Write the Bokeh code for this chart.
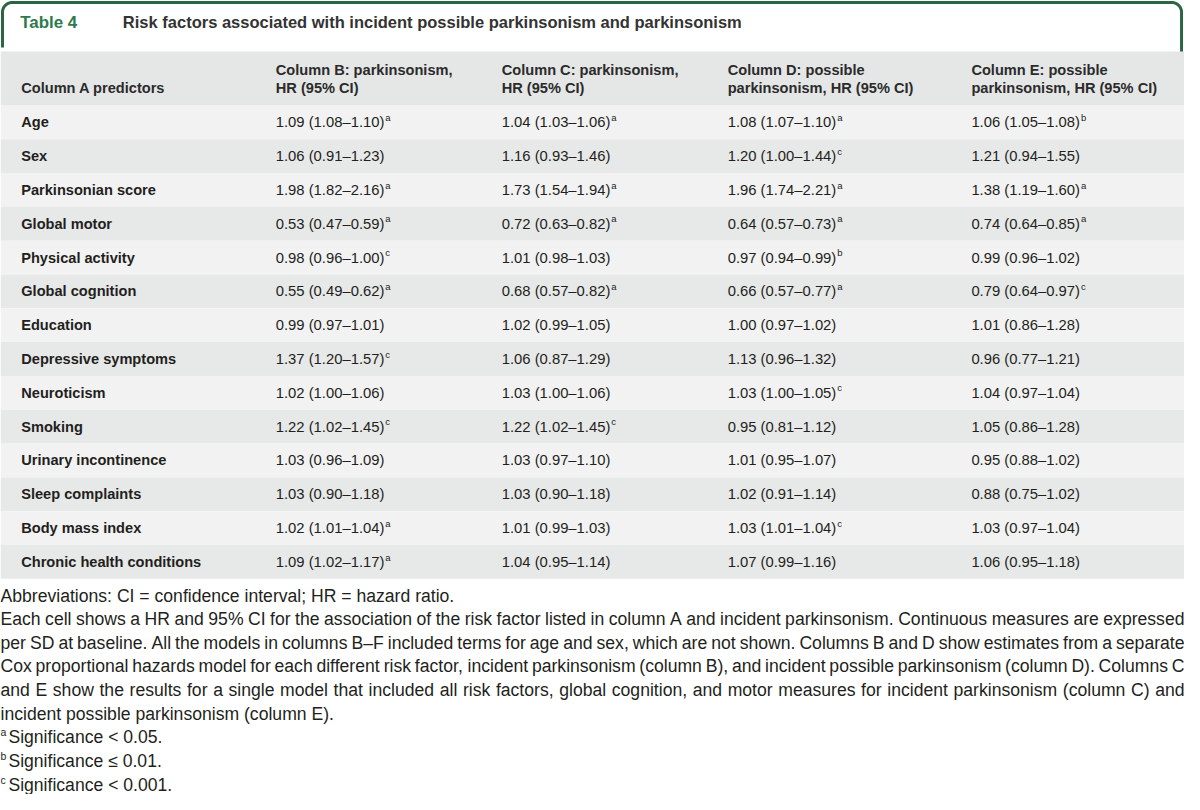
import numpy as np
from bokeh.plotting import figure
from bokeh.models import Range1d
from bokeh.core.properties import value
from bokeh.embed import file_html
from bokeh.resources import INLINE

# ---------------- data ----------------
table_label = "Table 4"
table_title = "Risk factors associated with incident possible parkinsonism and parkinsonism"

header_a = ["Column A predictors"]
header_b = ["Column B: parkinsonism,", "HR (95% CI)"]
header_c = ["Column C: parkinsonism,", "HR (95% CI)"]
header_d = ["Column D: possible", "parkinsonism, HR (95% CI)"]
header_e = ["Column E: possible", "parkinsonism, HR (95% CI)"]

predictors = ["Age", "Sex", "Parkinsonian score", "Global motor", "Physical activity",
              "Global cognition", "Education", "Depressive symptoms", "Neuroticism",
              "Smoking", "Urinary incontinence", "Sleep complaints", "Body mass index",
              "Chronic health conditions"]

hr_b = [1.09, 1.06, 1.98, 0.53, 0.98, 0.55, 0.99, 1.37, 1.02, 1.22, 1.03, 1.03, 1.02, 1.09]
lo_b = [1.08, 0.91, 1.82, 0.47, 0.96, 0.49, 0.97, 1.20, 1.00, 1.02, 0.96, 0.90, 1.01, 1.02]
hi_b = [1.10, 1.23, 2.16, 0.59, 1.00, 0.62, 1.01, 1.57, 1.06, 1.45, 1.09, 1.18, 1.04, 1.17]
sig_b = ["a", "", "a", "a", "c", "a", "", "c", "", "c", "", "", "a", "a"]

hr_c = [1.04, 1.16, 1.73, 0.72, 1.01, 0.68, 1.02, 1.06, 1.03, 1.22, 1.03, 1.03, 1.01, 1.04]
lo_c = [1.03, 0.93, 1.54, 0.63, 0.98, 0.57, 0.99, 0.87, 1.00, 1.02, 0.97, 0.90, 0.99, 0.95]
hi_c = [1.06, 1.46, 1.94, 0.82, 1.03, 0.82, 1.05, 1.29, 1.06, 1.45, 1.10, 1.18, 1.03, 1.14]
sig_c = ["a", "", "a", "a", "", "a", "", "", "", "c", "", "", "", ""]

hr_d = [1.08, 1.20, 1.96, 0.64, 0.97, 0.66, 1.00, 1.13, 1.03, 0.95, 1.01, 1.02, 1.03, 1.07]
lo_d = [1.07, 1.00, 1.74, 0.57, 0.94, 0.57, 0.97, 0.96, 1.00, 0.81, 0.95, 0.91, 1.01, 0.99]
hi_d = [1.10, 1.44, 2.21, 0.73, 0.99, 0.77, 1.02, 1.32, 1.05, 1.12, 1.07, 1.14, 1.04, 1.16]
sig_d = ["a", "c", "a", "a", "b", "a", "", "", "c", "", "", "", "c", ""]

hr_e = [1.06, 1.21, 1.38, 0.74, 0.99, 0.79, 1.01, 0.96, 1.04, 1.05, 0.95, 0.88, 1.03, 1.06]
lo_e = [1.05, 0.94, 1.19, 0.64, 0.96, 0.64, 0.86, 0.77, 0.97, 0.86, 0.88, 0.75, 0.97, 0.95]
hi_e = [1.08, 1.55, 1.60, 0.85, 1.02, 0.97, 1.28, 1.21, 1.04, 1.28, 1.02, 1.02, 1.04, 1.18]
sig_e = ["b", "", "a", "a", "", "c", "", "", "", "", "", "", "", ""]

abbrev_line = "Abbreviations: CI = confidence interval; HR = hazard ratio."
note_lines = [
    "Each cell shows a HR and 95% CI for the association of the risk factor listed in column A and incident parkinsonism. Continuous measures are expressed",
    "per SD at baseline. All the models in columns B\u2013F included terms for age and sex, which are not shown. Columns B and D show estimates from a separate",
    "Cox proportional hazards model for each different risk factor, incident parkinsonism (column B), and incident possible parkinsonism (column D). Columns C",
    "and E show the results for a single model that included all risk factors, global cognition, and motor measures for incident parkinsonism (column C) and",
    "incident possible parkinsonism (column E).",
]
sig_letters = ["a", "b", "c"]
sig_texts = ["Significance < 0.05.", "Significance \u2264 0.01.", "Significance < 0.001."]

# ---------------- layout / style ----------------
FONT = "Liberation Sans"
W_REF, H_REF = 1200, 810
FIG_W, FIG_H = 1184, 794
SX = FIG_W / W_REF

GREEN_LINE = "#2b6544"
GREEN_TEXT = "#2e7a4e"
TEXT = "#231f20"
HEADER_BG = "#e5e6e6"
ROW_BG = ["#f2f2f2", "#e7e8e8"]

# Arial / Liberation Sans advance widths (1/1000 em)
AW = {' ': 278, '(': 333, ')': 333, ',': 278, '-': 333, '.': 278, ':': 278, ';': 278,
      '%': 889, '=': 584, '<': 584, '\u2264': 549, '\u2013': 556, '0': 556, '1': 556,
      '2': 556, '3': 556, '4': 556, '5': 556, '6': 556, '7': 556, '8': 556, '9': 556,
      'A': 667, 'B': 667, 'C': 722, 'D': 722, 'E': 667, 'F': 611, 'G': 778, 'H': 722,
      'I': 278, 'J': 500, 'K': 667, 'L': 556, 'M': 833, 'N': 722, 'O': 778, 'P': 667,
      'Q': 778, 'R': 722, 'S': 667, 'T': 611, 'U': 722, 'V': 667, 'W': 944, 'X': 667,
      'Y': 667, 'Z': 611, 'a': 556, 'b': 556, 'c': 500, 'd': 556, 'e': 556, 'f': 278,
      'g': 556, 'h': 556, 'i': 222, 'j': 222, 'k': 500, 'l': 222, 'm': 833, 'n': 556,
      'o': 556, 'p': 556, 'q': 556, 'r': 333, 's': 500, 't': 278, 'u': 556, 'v': 500,
      'w': 722, 'x': 500, 'y': 500, 'z': 500}


def text_w(s, size_px):
    """width in reference (data) units"""
    return sum(AW.get(ch, 556) for ch in s) / 1000.0 * size_px / SX


p = figure(width=FIG_W, height=FIG_H, output_backend="svg", toolbar_location=None,
           x_range=Range1d(0, W_REF), y_range=Range1d(H_REF, 0), min_border=0,
           outline_line_color=None, background_fill_color="white",
           border_fill_color="white")
p.axis.visible = False
p.xgrid.visible = False
p.ygrid.visible = False

# ---- title box (open-bottom rounded frame) ----
r = 10
bx0, bx1, byt, byl, byr = 2, 1197, 2, 48, 56
a = np.linspace(0, np.pi / 2, 12)
lx = [bx0] + list(bx0 + r - r * np.cos(a))
ly = [byl] + list(byt + r - r * np.sin(a))
rx = list(bx1 - r + r * np.sin(a)) + [bx1]
ry = list(byt + r - r * np.cos(a)) + [byr]
p.line(lx + rx, ly + ry, line_color=GREEN_LINE, line_width=3)

p.text([20], [22], text=[table_label], text_font=value(FONT), text_font_size=value("16.9px"),
       text_font_style="bold", text_color=GREEN_TEXT, text_baseline="middle")
p.text([124], [22], text=[table_title], text_font=value(FONT), text_font_size=value("16.5px"),
       text_font_style="bold", text_color="#333333", text_baseline="middle")

# ---- header band ----
HDR_TOP, HDR_BOT = 52, 107
p.quad(left=[0], right=[W_REF], top=[HDR_TOP], bottom=[HDR_BOT], fill_color=HEADER_BG,
       line_color=None)

col_x = [21, 279, 508, 737, 984]
headers = [header_a, header_b, header_c, header_d, header_e]
hx, hy, ht = [], [], []
for cx, lines in zip(col_x, headers):
    if len(lines) == 1:
        hx.append(cx); hy.append(89); ht.append(lines[0])
    else:
        for k, t in enumerate(lines):
            hx.append(cx); hy.append(71 + 18 * k); ht.append(t)
p.text(hx, hy, text=ht, text_font=value(FONT), text_font_size=value("14.6px"),
       text_font_style="bold", text_color="#2b2b2b", text_baseline="middle")

# ---- body rows ----
ROW_H = 34.5
n = len(predictors)
tops = [HDR_BOT + i * ROW_H for i in range(n)]
bots = [t + ROW_H for t in tops]
p.quad(left=[0] * n, right=[W_REF] * n, top=tops, bottom=bots,
       fill_color=[ROW_BG[i % 2] for i in range(n)], line_color=None)
mids = [t + ROW_H / 2 for t in tops]

p.text([col_x[0]] * n, mids, text=predictors, text_font=value(FONT),
       text_font_size=value("14.6px"), text_font_style="bold", text_color=TEXT,
       text_baseline="middle")

CELL_FS = 14.8
SUP_FS = 9.5
cx_all, cy_all, ct_all, sx_all, sy_all, st_all = [], [], [], [], [], []
for cx, hr, lo, hi, sig in [(col_x[1], hr_b, lo_b, hi_b, sig_b),
                            (col_x[2], hr_c, lo_c, hi_c, sig_c),
                            (col_x[3], hr_d, lo_d, hi_d, sig_d),
                            (col_x[4], hr_e, lo_e, hi_e, sig_e)]:
    for i in range(n):
        s = f"{hr[i]:.2f} ({lo[i]:.2f}\u2013{hi[i]:.2f})"
        cx_all.append(cx); cy_all.append(mids[i]); ct_all.append(s)
        if sig[i]:
            sx_all.append(cx + text_w(s, CELL_FS) + 1)
            sy_all.append(mids[i] - 5)
            st_all.append(sig[i])
p.text(cx_all, cy_all, text=ct_all, text_font=value(FONT), text_font_size=value(f"{CELL_FS}px"),
       text_color=TEXT, text_baseline="middle")
p.text(sx_all, sy_all, text=st_all, text_font=value(FONT), text_font_size=value(f"{SUP_FS}px"),
       text_color=TEXT, text_baseline="middle")

# ---- footnotes ----
NOTE_FS = 17.6
LINE0, LINE_H = 607, 24.1
p.text([0], [LINE0], text=[abbrev_line], text_font=value(FONT),
       text_font_size=value(f"{NOTE_FS}px"), text_color=TEXT, text_baseline="middle")

wx, wy, wt = [], [], []
for k, line in enumerate(note_lines):
    y = LINE0 + LINE_H * (k + 1)
    words = line.split(" ")
    if k < len(note_lines) - 1:
        widths = [text_w(w, NOTE_FS) for w in words]
        gap = (W_REF - sum(widths)) / (len(words) - 1)
        x = 0
        for w, ww in zip(words, widths):
            wx.append(x); wy.append(y); wt.append(w)
            x += ww + gap
    else:
        wx.append(0); wy.append(y); wt.append(line)
p.text(wx, wy, text=wt, text_font=value(FONT), text_font_size=value(f"{NOTE_FS}px"),
       text_color=TEXT, text_baseline="middle")

base = len(note_lines) + 1
sig_y = [LINE0 + LINE_H * (base + k) for k in range(len(sig_letters))]
p.text([0] * 3, [y - 5 for y in sig_y], text=sig_letters, text_font=value(FONT),
       text_font_size=value("10.5px"), text_color=TEXT, text_baseline="middle")
p.text([8] * 3, sig_y, text=sig_texts, text_font=value(FONT),
       text_font_size=value(f"{NOTE_FS}px"), text_color=TEXT, text_baseline="middle")

open("out.html", "w").write(file_html(p, INLINE))
